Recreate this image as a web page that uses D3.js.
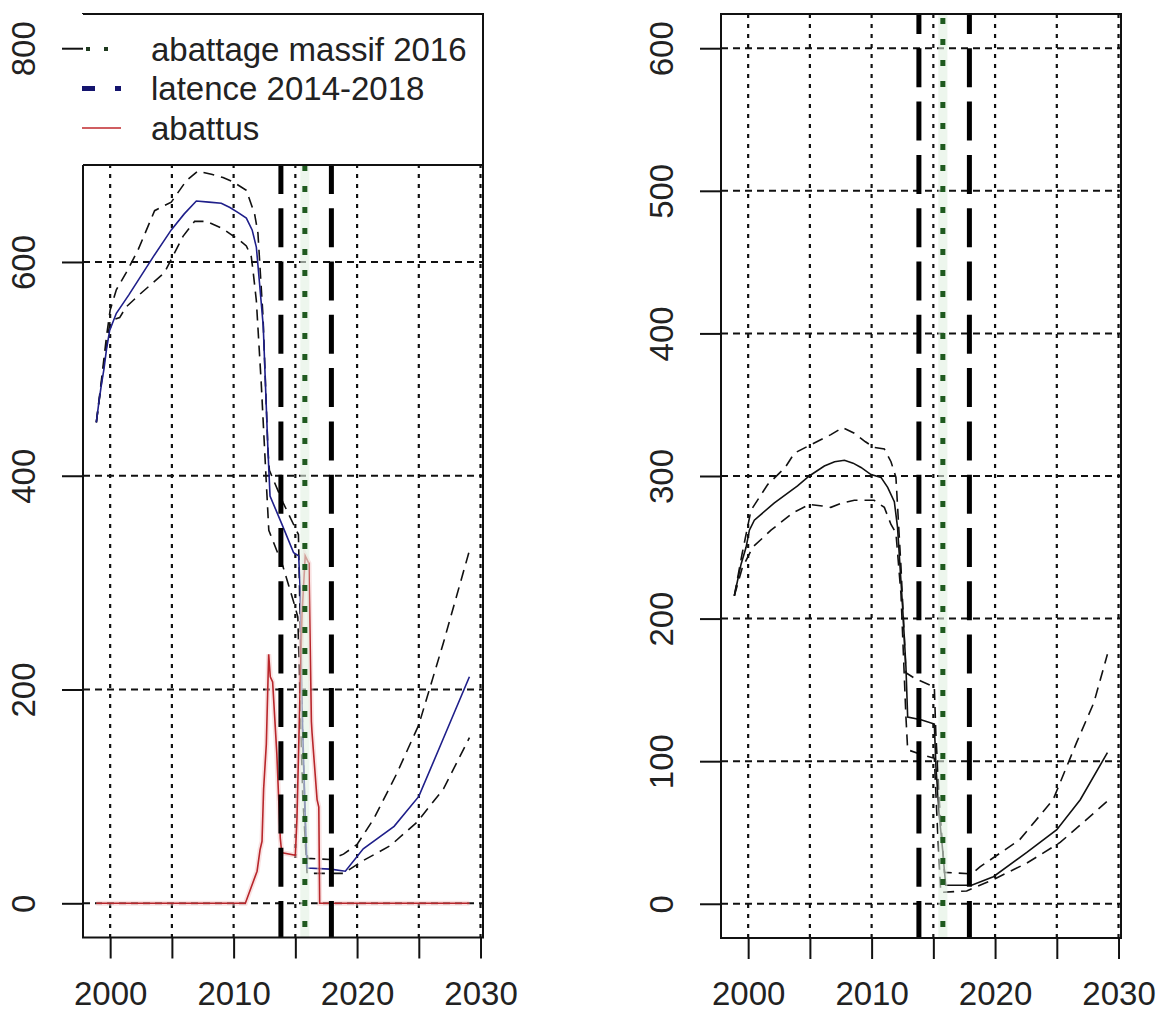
<!DOCTYPE html>
<html>
<head>
<meta charset="utf-8">
<script src="https://cdn.jsdelivr.net/npm/d3@7"></script>
<style>
  body { margin: 0; background: #fff; }
  svg { display: block; }
  text { font-family: "Liberation Sans", Arial, sans-serif; fill: #222; }
</style>
</head>
<body>
<svg id="chart" width="1156" height="1012"></svg>
<script>
// ---- Axes ----
const xTicks = [2000, 2005, 2010, 2015, 2020, 2025, 2030];
const xTickLabels = [2000, 2010, 2020, 2030];
const leftYTicks = [0, 200, 400, 600, 800];
const rightYTicks = [0, 100, 200, 300, 400, 500, 600];

// ---- Reference dates ----
const latencyYears = [2013.83, 2017.92];   // latence 2014-2018
const cullYear = [2015.77];                // abattage massif 2016

// ---- Left panel: population (median + bounds) and culled animals ----
const leftMedYear = [1998.88, 1999.1, 1999.3, 1999.5, 1999.7, 1999.96, 2000.5, 2001.5, 2002.5, 2003.5, 2004.95, 2006.0, 2006.98, 2008.0, 2009.0, 2009.7, 2010.4, 2011.03, 2011.5, 2011.84, 2012.1, 2012.4, 2012.78, 2012.95, 2013.9, 2014.86, 2015.27, 2015.4, 2015.54, 2015.81, 2015.95, 2017.84, 2019.05, 2020.5, 2023.0, 2025.0, 2026.8, 2029.1];
const leftMedValue = [450, 470, 486, 500, 518, 536, 552, 569, 587, 605, 630, 645, 657, 656, 655, 651, 646, 641, 630, 614, 580, 540, 424, 381, 355, 328, 325, 290, 184, 79, 33, 32, 30, 51, 72, 100, 149, 212];

const leftHiYear = [1998.88, 1999.3, 1999.7, 2000.0, 2000.5, 2001.3, 2002.25, 2003.6, 2004.95, 2006.17, 2007.1, 2008.2, 2009.14, 2009.95, 2011.03, 2011.7, 2011.97, 2012.38, 2012.78, 2012.9, 2014.0, 2015.25, 2015.5, 2015.85, 2016.0, 2017.84, 2018.9, 2020.0, 2021.35, 2023.2, 2025.0, 2027.0, 2029.1];
const leftHiValue = [450, 490, 530, 555, 574, 590, 611, 648, 656, 676, 685, 682, 679, 675, 667, 645, 627, 549, 424, 405, 375, 345, 200, 55, 42, 41, 46, 55, 79, 121, 167, 244, 330];

const leftLoYear = [1998.88, 1999.5, 2000.0, 2000.77, 2001.3, 2002.52, 2004.4, 2005.9, 2006.84, 2007.79, 2009.14, 2010.5, 2011.03, 2011.43, 2011.57, 2011.84, 2012.24, 2012.65, 2012.85, 2014.0, 2014.86, 2015.2, 2015.6, 2015.95, 2018.9, 2020.5, 2022.7, 2024.86, 2027.0, 2029.1];
const leftLoValue = [450, 505, 545, 548, 558, 571, 590, 624, 638, 638, 631, 620, 615, 605, 592, 564, 486, 393, 349, 315, 282, 268, 100, 28, 28, 40, 54, 76, 107, 155];

const culledYear = [1998.88, 2010.95, 2011.9, 2012.14, 2012.3, 2012.43, 2012.65, 2012.84, 2012.97, 2013.16, 2013.5, 2013.78, 2013.9, 2014.05, 2015.0, 2015.13, 2015.35, 2015.54, 2015.8, 2016.1, 2016.3, 2016.35, 2016.76, 2016.9, 2016.97, 2029.1];
const culledValue = [0, 0, 30, 50, 58, 107, 149, 233, 212, 207, 140, 61, 47, 47, 45, 79, 184, 270, 325, 318, 170, 160, 97, 90, 0, 0];

// ---- Right panel: second population (median + bounds) ----
const rightMedYear = [1998.88, 1999.42, 1999.83, 2000.1, 2000.5, 2002.1, 2004.0, 2004.95, 2006.17, 2007.0, 2007.8, 2008.5, 2009.14, 2009.95, 2010.76, 2011.3, 2011.84, 2012.1, 2012.51, 2012.78, 2012.92, 2014.0, 2015.08, 2015.21, 2015.48, 2015.75, 2016.0, 2018.1, 2019.86, 2022.57, 2025.0, 2026.9, 2029.1];
const rightMedValue = [216, 238, 250, 262, 269, 281, 293, 300, 307, 310, 311, 309, 306, 301, 299, 292, 282, 264, 208, 166, 131, 129, 126, 96, 62, 38, 13, 13, 19, 36, 52, 73, 106];

const rightHiYear = [1998.88, 1999.5, 2000.23, 2001.58, 2003.0, 2003.74, 2005.09, 2006.7, 2007.65, 2008.6, 2009.5, 2010.2, 2011.03, 2011.57, 2011.97, 2012.38, 2012.78, 2013.5, 2015.08, 2015.2, 2015.5, 2015.9, 2018.1, 2018.8, 2022.0, 2024.7, 2026.6, 2028.0, 2029.1];
const rightHiValue = [216, 245, 276, 294, 306, 316, 322, 329, 334, 330, 324, 320, 319, 310, 299, 236, 162, 158, 152, 120, 70, 22, 21, 26, 45, 73, 113, 141, 175];

const rightLoYear = [1998.88, 1999.5, 2000.36, 2001.85, 2003.6, 2004.95, 2006.0, 2006.7, 2007.6, 2008.6, 2010.2, 2011.03, 2011.57, 2011.97, 2012.38, 2012.78, 2012.92, 2014.27, 2015.08, 2015.35, 2015.6, 2017.7, 2019.86, 2022.57, 2025.27, 2027.4, 2029.1];
const rightLoValue = [216, 235, 250, 262, 274, 280, 279, 278, 281, 283, 283, 278, 266, 260, 217, 131, 108, 104, 102, 50, 8, 9, 17, 28.5, 43, 59, 72];

// ---- Legend ----
const legendLabels = ["abattage massif 2016", "latence 2014-2018", "abattus"];

// ------------------------------------------------------------------
const svg = d3.select("#chart");
const FONT = 33;

const panels = [
  { id: "p1", left: 83, right: 483, top: 14, bottom: 937.5, yMax: 800, yTicks: leftYTicks, medColor: "#1f1f8a",
    med: d3.zip(leftMedYear, leftMedValue), hi: d3.zip(leftHiYear, leftHiValue), lo: d3.zip(leftLoYear, leftLoValue),
    culled: d3.zip(culledYear, culledValue), legend: true },
  { id: "p2", left: 721, right: 1121, top: 14, bottom: 938, yMax: 600, yTicks: rightYTicks, medColor: "#111",
    med: d3.zip(rightMedYear, rightMedValue), hi: d3.zip(rightHiYear, rightHiValue), lo: d3.zip(rightLoYear, rightLoValue),
    culled: null, legend: false }
];

const defs = svg.append("defs");

panels.forEach(p => {
  // R-style 4% padding around the data range
  const x = d3.scaleLinear().domain([1997.8, 2030.2]).range([p.left, p.right]);
  const y = d3.scaleLinear().domain([-0.04 * p.yMax, 1.04 * p.yMax]).range([p.bottom, p.top]);

  defs.append("clipPath").attr("id", "clip-" + p.id)
    .append("rect").attr("x", p.left).attr("y", p.top)
    .attr("width", p.right - p.left).attr("height", p.bottom - p.top);

  const g = svg.append("g");
  const plot = g.append("g").attr("clip-path", `url(#clip-${p.id})`);

  // grid
  plot.selectAll(".vgrid").data(xTicks).join("line")
    .attr("x1", d => x(d)).attr("x2", d => x(d))
    .attr("y1", p.top).attr("y2", p.bottom)
    .attr("stroke", "#111").attr("stroke-width", 2.2).attr("stroke-dasharray", "4,6");
  plot.selectAll(".hgrid").data(p.yTicks).join("line")
    .attr("x1", p.left).attr("x2", p.right)
    .attr("y1", d => y(d)).attr("y2", d => y(d))
    .attr("stroke", "#111").attr("stroke-width", 2).attr("stroke-dasharray", "7,5");

  const line = d3.line().x(d => x(d[0])).y(d => y(d[1]));

  // bounds
  [p.hi, p.lo].forEach(s => {
    plot.append("path").attr("d", line(s)).attr("fill", "none")
      .attr("stroke", "#111").attr("stroke-width", 1.6).attr("stroke-dasharray", "11,7");
  });
  // median
  plot.append("path").attr("d", line(p.med)).attr("fill", "none")
    .attr("stroke", p.medColor).attr("stroke-width", 1.6);

  // culled animals
  if (p.culled) {
    plot.append("path").attr("d", line(p.culled)).attr("fill", "none")
      .attr("stroke", "#f4c6c6").attr("stroke-width", 5).attr("opacity", 0.5);
    plot.append("path").attr("d", line(p.culled)).attr("fill", "none")
      .attr("stroke", "#b8262b").attr("stroke-width", 1.6);
  }

  // latency window
  plot.selectAll(".lat").data(latencyYears).join("line")
    .attr("x1", d => x(d)).attr("x2", d => x(d))
    .attr("y1", p.top).attr("y2", p.bottom)
    .attr("stroke", "#000").attr("stroke-width", 5)
    .attr("stroke-dasharray", "39,14.3").attr("stroke-dashoffset", 19);

  // mass cull
  plot.selectAll(".cullhalo").data(cullYear).join("line")
    .attr("x1", d => x(d)).attr("x2", d => x(d))
    .attr("y1", p.top).attr("y2", p.bottom)
    .attr("stroke", "#e2f1e2").attr("stroke-width", 9).attr("opacity", 0.6);
  plot.selectAll(".cull").data(cullYear).join("line")
    .attr("x1", d => x(d)).attr("x2", d => x(d))
    .attr("y1", p.top).attr("y2", p.bottom)
    .attr("stroke", "#1f5a1f").attr("stroke-width", 5)
    .attr("stroke-dasharray", "6,15").attr("stroke-dashoffset", 17);

  // x axis
  const xa = g.append("g").attr("transform", `translate(0,${p.bottom})`)
    .call(d3.axisBottom(x).tickValues(xTicks).tickSize(21).tickPadding(23)
      .tickFormat(d => xTickLabels.includes(d) ? String(d) : ""));
  // y axis
  const ya = g.append("g").attr("transform", `translate(${p.left},0)`)
    .call(d3.axisLeft(y).tickValues(p.yTicks).tickSize(21).tickFormat(d => String(d)));
  ya.selectAll("text").attr("x", 0).attr("dy", 0)
    .attr("text-anchor", "middle")
    .attr("transform", "translate(-48,0) rotate(-90)");
  [xa, ya].forEach(a => {
    a.select(".domain").remove();
    a.selectAll("line").attr("stroke", "#111").attr("stroke-width", 2);
    a.selectAll("text").attr("fill", "#222").style("font-size", FONT + "px")
      .style("font-family", '"Liberation Sans", Arial, sans-serif');
  });
  // unlabelled ticks carry no text node content
  xa.selectAll("text").filter(d => !xTickLabels.includes(d)).remove();

  // box
  g.append("rect").attr("x", p.left).attr("y", p.top)
    .attr("width", p.right - p.left).attr("height", p.bottom - p.top)
    .attr("fill", "none").attr("stroke", "#111").attr("stroke-width", 2);

  // legend
  if (p.legend) {
    const lg = g.append("g");
    const lBottom = 165;
    lg.append("rect").attr("x", p.left - 1).attr("y", p.top)
      .attr("width", p.right - p.left + 1).attr("height", lBottom - p.top).attr("fill", "#fff");
    lg.append("path")
      .attr("d", `M${p.left},${p.top}H${p.right}V${lBottom}H${p.left}`)
      .attr("fill", "none").attr("stroke", "#111").attr("stroke-width", 2);

    const rowY = [49, 88.5, 128];
    const segX = [82, 121];
    // abattage massif 2016
    lg.append("line").attr("x1", segX[0] + 4).attr("x2", segX[1])
      .attr("y1", rowY[0]).attr("y2", rowY[0])
      .attr("stroke", "#1f3a1f").attr("stroke-width", 4).attr("stroke-dasharray", "4,14");
    // latence 2014-2018
    lg.append("line").attr("x1", segX[0]).attr("x2", segX[1])
      .attr("y1", rowY[1]).attr("y2", rowY[1])
      .attr("stroke", "#14146e").attr("stroke-width", 5).attr("stroke-dasharray", "13,20");
    // abattus
    lg.append("line").attr("x1", segX[0]).attr("x2", segX[1])
      .attr("y1", rowY[2]).attr("y2", rowY[2])
      .attr("stroke", "#c0282d").attr("stroke-width", 1.6);

    lg.selectAll(".ltext").data(legendLabels).join("text")
      .attr("x", 151).attr("y", (d, i) => rowY[i] + 11.8)
      .style("font-size", FONT + "px").text(d => d);

    // the 800 tick sits beside the legend
    ya.raise();
  }
});
</script>
</body>
</html>
